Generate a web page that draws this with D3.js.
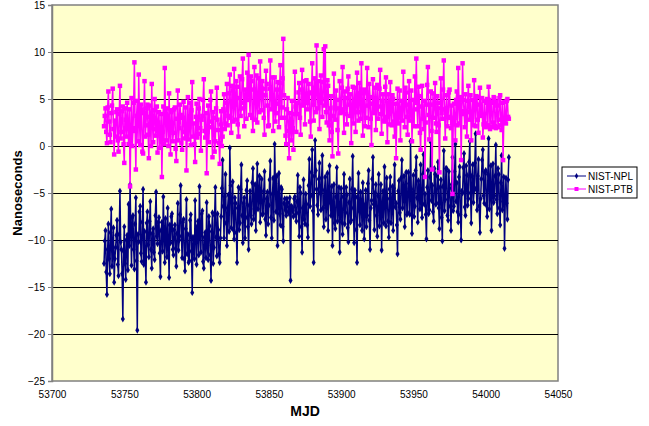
<!doctype html>
<html lang="en">

<head>
    <meta charset="UTF-8">
    <title>NIST-NPL / NIST-PTB</title>
    <style>
        body { margin: 0; background: #fff; }
        text { font-family: "Liberation Sans", Arial, sans-serif; }
    </style>
</head>

<body>
    <svg width="649" height="426"></svg>
    <script src="https://cdn.jsdelivr.net/npm/d3@7"></script>
    <script type="text/javascript">
    // first MJD of both series; readings at whole days and at half days
    var startMJD = 53736;

    var xTicks = [53700, 53750, 53800, 53850, 53900, 53950, 54000, 54050];
    var yTicks = [-25, -20, -15, -10, -5, 0, 5, 10, 15];

    // NIST-NPL, whole-day readings
    var nplDay = [
        -12.5, -9.0, -15.8, -8.3, -13.6, -6.7, -11.2, -14.5, -10.8, -7.9,
        -13.8, -4.8, -11.0, -18.4, -8.6, -14.2, -9.5, -6.2, -4.1, -12.7,
        -7.4, -13.1, -5.5, -19.6, -10.2, -6.4, -12.3, -4.6, -9.1, -14.5,
        -7.0, -11.8, -5.9, -13.0, -8.8, -12.1, -4.9, -10.4, -7.6, -13.9,
        -8.1, -5.4, -12.4, -9.7, -6.6, -14.0, -10.3, -7.2, -11.6, -8.4,
        -12.8, -6.1, -10.0, -4.2, -11.9, -7.8, -13.3, -5.7, -9.4, -12.2,
        -7.3, -15.6, -9.9, -5.8, -12.6, -8.0, -4.3, -11.3, -6.9, -13.0,
        -9.2, -6.0, -12.1, -8.5, -14.3, -7.1, -10.8, -4.4, -11.7, -8.9,
        -12.4, -7.5, -1.5, -9.8, -3.0, -10.6, -5.2, -0.2, -8.7, -3.8,
        -9.9, -6.1, -12.4, -4.4, -8.2, -2.0, -10.3, -5.5, -7.6, -3.7,
        -11.0, -4.8, -8.3, -2.4, -6.7, -9.0, -1.9, -5.6, -8.1, -3.5,
        -7.2, -2.7, -9.5, -4.9, -6.3, -1.6, -9.8, -3.4, 0.2, -7.0,
        -10.6, -2.9, -8.4, -4.6, -10.1, -5.6, -7.4, -6.0, -7.2, -14.3,
        -6.5, -7.5, -5.4, -8.0, -3.1, -9.6, -5.0, -11.3, -3.6, -8.3,
        -6.2, -9.7, -1.4, -5.3, -0.4, -12.4, 0.6, -4.6, -7.3, -1.8,
        -6.8, -1.0, -8.6, -3.3, -5.9, -9.0, -2.1, -7.4, -10.6, -4.1,
        -8.8, -2.3, -6.2, -11.3, -4.5, -9.4, -3.0, -7.1, -5.2, -10.2,
        -3.5, -7.9, -1.1, -10.3, -5.4, -12.4, -2.9, -8.4, -6.1, -3.9,
        -9.9, -4.7, -7.4, -2.6, -11.0, -5.8, -1.2, -8.9, -4.1, -9.6,
        -3.0, -7.0, -11.1, -4.8, -2.2, -8.5, -5.6, -9.7, -3.3, -6.6,
        -9.0, -2.0, -6.1, -11.5, -3.7, -7.8, -1.5, -5.2, -8.6, -2.8,
        -7.1, -4.0, 0.5, -9.3, -3.1, -6.4, -1.2, -8.1, -4.4, -2.0,
        -7.6, -0.9, -5.1, -9.9, -2.6, -6.8, 0.4, -4.2, -8.0, -3.0,
        -6.1, -1.7, -8.8, -3.6, -10.1, -0.5, -5.7, -2.4, -7.9, -4.5,
        -9.0, -1.2, -6.4, 0.2, -3.9, -8.1, -2.2, -10.0, -5.0, -0.8,
        -7.4, -3.1, -5.6, 0.5, -8.2, -2.0, -4.7, 1.3, -6.8, -1.4,
        -9.2, -3.5, -0.4, -6.1, -2.6, -7.5, 0.8, -4.8, -9.0, -1.9,
        -5.3, 0.1, -7.2, -3.0, -8.4, -1.0, -5.9, -10.9, -3.4, -7.8,
        -1.2
    ];

    // NIST-NPL, half-day readings
    var nplHalf = [
        -10.1, -13.4, -11.0, -12.0, -9.2, -12.8, -8.7, -12.0, -9.5, -12.6,
        -9.4, -10.2, -13.6, -11.2, -12.5, -10.0, -13.2, -10.6, -9.0, -7.6,
        -11.0, -8.3, -12.2, -9.4, -7.0, -11.4, -8.1, -12.6, -11.9, -8.2,
        -10.5, -8.0, -11.0, -9.3, -11.3, -7.4, -9.6, -8.1, -11.4, -9.0,
        -11.2, -9.5, -7.7, -11.8, -10.4, -8.4, -7.5, -11.0, -8.9, -10.9,
        -9.3, -11.1, -7.3, -9.6, -8.1, -12.0, -8.8, -11.5, -12.4, -7.9,
        -11.2, -9.7, -12.0, -9.4, -8.6, -11.6, -9.3, -7.2, -12.3, -9.7,
        -11.9, -10.6, -7.5, -11.6, -9.1, -12.5, -7.4, -9.7, -7.2, -11.5,
        -9.8, -4.5, -6.4, -5.4, -8.2, -6.6, -9.1, -4.2, -6.1, -8.9,
        -5.5, -9.2, -6.6, -8.9, -4.6, -7.4, -6.1, -9.8, -4.7, -8.6,
        -6.3, -7.4, -3.9, -7.8, -4.1, -5.0, -6.7, -3.2, -4.9, -7.3,
        -4.8, -7.8, -5.6, -8.3, -3.6, -7.6, -5.1, -7.9, -4.0, -3.2,
        -5.8, -7.2, -4.4, -8.6, -6.1, -6.8, -5.6, -7.0, -5.5, -6.4,
        -6.9, -5.6, -7.3, -5.9, -7.1, -4.4, -8.6, -6.6, -7.8, -5.1,
        -8.4, -4.2, -6.4, -2.8, -6.9, -3.2, -2.6, -6.3, -3.5, -5.0,
        -3.4, -6.6, -4.7, -7.8, -2.9, -5.2, -6.0, -4.3, -6.5, -8.2,
        -5.4, -8.0, -4.4, -6.6, -8.1, -5.4, -8.3, -4.4, -8.7, -6.0,
        -8.1, -4.6, -6.6, -4.7, -8.9, -5.5, -6.9, -4.9, -9.0, -7.0,
        -6.3, -8.6, -4.0, -7.9, -6.6, -3.5, -6.2, -5.0, -7.4, -5.3,
        -8.5, -4.1, -6.4, -8.2, -6.0, -3.4, -8.0, -4.6, -8.2, -4.3,
        -4.5, -6.5, -8.4, -4.8, -7.1, -3.4, -6.6, -3.2, -4.5, -7.3,
        -2.8, -7.3, -4.6, -5.2, -7.5, -2.6, -5.5, -3.7, -6.7, -6.0,
        -3.0, -6.2, -7.3, -4.4, -7.2, -3.3, -5.8, -7.0, -2.4, -6.2,
        -3.2, -6.6, -4.4, -7.6, -4.3, -6.9, -2.4, -7.4, -2.7, -6.4,
        -4.1, -6.9, -2.7, -5.9, -7.0, -3.3, -7.3, -4.8, -2.3, -6.5,
        -2.1, -6.3, -1.7, -5.0, -3.2, -6.0, -1.8, -4.5, -3.2, -6.4,
        -5.6, -1.5, -5.3, -2.8, -6.3, -3.0, -6.7, -2.1, -4.7, -6.0,
        -3.2, -5.7, -2.4, -6.6, -3.9, -6.8, -3.3, -5.9, -6.1, -3.6
    ];

    // NIST-PTB, whole-day readings
    var ptbDay = [
        2.1, 4.0, 0.3, 5.8, 1.2, 3.5, 6.1, -0.9, 1.0, 3.9,
        -0.6, 6.4, 1.5, 4.2, -1.8, 2.8, 4.6, 0.2, -4.3, 5.1,
        1.6, 8.9, -2.5, 4.8, 7.6, 0.1, 3.9, -0.8, 6.9, 2.2,
        4.4, -1.3, 3.1, 6.6, 0.4, 5.0, 1.8, -0.7, 3.6, 1.1,
        -3.3, 4.2, 8.3, 0.6, 2.9, 5.6, -0.9, 3.8, 1.4, 4.1,
        -1.6, 5.9, 1.9, 3.3, -0.4, 4.7, 0.8, -2.6, 5.2, 2.0,
        0.1, 6.8, 2.4, -1.7, 4.5, 1.3, 5.0, -0.5, 3.2, 7.1,
        0.9, -2.9, 4.3, 2.6, 5.8, -1.2, 3.0, 0.5, 6.2, 1.7,
        -1.9, 3.7, 1.0, 5.5, 2.4, 6.6, 3.2, 7.6, 1.4, 5.9,
        8.2, 2.8, 6.3, 1.0, 7.4, 4.0, 9.3, 2.1, 5.4, 7.8,
        9.7, 3.3, 6.9, 1.6, 8.4, 4.7, 2.5, 7.2, 9.0, 3.8,
        6.1, 1.2, 8.0, 4.3, 2.2, 9.1, 5.0, 1.6, 7.3, 3.5,
        6.8, 2.0, 8.6, 4.1, 11.4, 3.0, 0.2, 5.1, -1.3, 2.6,
        4.8, -0.4, 7.9, 1.5, 3.4, 6.7, 1.2, 8.1, 4.5, 2.3,
        7.0, 3.9, 5.6, 1.0, 8.8, 2.7, 6.2, 10.7, 4.0, 1.8,
        7.5, 3.1, 10.3, 10.6, 2.5, 6.4, 0.6, 5.3, -1.1, 7.7,
        2.8, 4.9, -0.8, 6.9, 3.6, 8.4, 1.4, 5.1, 2.3, 7.4,
        3.2, 0.3, 6.3, 4.4, 1.5, 7.8, 2.7, 5.6, 8.8, 1.1,
        6.0, 3.0, 8.3, 2.0, 5.2, 0.1, 7.1, 3.9, 1.7, 6.5,
        4.2, 8.1, 1.3, 5.5, 2.6, 7.3, 0.4, 4.6, 6.8, 2.2,
        5.0, 1.0, -1.3, 6.1, 3.3, 0.6, 4.8, 7.9, 2.0, 5.7,
        1.2, 6.9, 3.6, 0.5, 4.9, 7.4, 9.3, 2.1, 5.3, -0.4,
        6.4, 1.8, -3.3, 4.4, 8.4, 0.7, 5.8, -2.5, 3.0, 6.7,
        1.5, 4.6, -2.8, 7.2, 2.9, 9.1, 0.8, 5.4, 3.1, 6.0,
        1.9, -5.1, 4.5, 0.6, 5.8, 8.3, 2.4, -1.5, 8.8, 3.7,
        5.5, 1.0, 6.4, 2.8, 0.6, 4.9, 7.0, 2.1, 5.2, 1.4,
        6.2, 3.4, 0.9, 4.8, 2.0, 5.0, 6.3, 1.8, 4.6, 2.5,
        5.1, 1.9, 4.3, 2.8, 5.4, 1.7, -1.5, 4.7, 2.4, 5.0,
        2.9
    ];

    // NIST-PTB, half-day readings
    var ptbHalf = [
        3.2, 1.5, 4.1, 2.6, 0.4, 4.3, 1.8, 2.7, 3.6, 0.6,
        3.4, 0.8, 3.7, 0.2, 4.0, 1.0, 2.2, 3.9, 1.3, 0.0,
        4.6, 1.9, 3.2, 0.5, 2.7, 4.4, -0.6, 3.5, 1.0, 4.0,
        1.2, 4.3, 0.0, 2.4, 3.8, 1.1, 4.2, 2.5, -0.2, 3.4,
        1.5, 0.2, 3.0, 4.0, 0.0, 1.7, 3.6, 0.5, 3.9, -0.3,
        2.9, 0.6, 4.4, 0.3, 3.0, 1.5, 4.1, 1.2, 0.7, 4.6,
        3.8, 1.0, 0.2, 3.1, 0.9, 4.0, 1.9, 2.8, 4.9, 1.6,
        3.5, 1.5, 0.4, 4.9, 2.0, 3.6, -0.6, 4.0, 2.8, 0.3,
        2.3, 0.0, 3.9, 1.8, 4.6, 2.2, 5.6, 3.0, 6.4, 2.6,
        4.4, 6.9, 2.3, 5.1, 3.2, 7.1, 4.6, 6.0, 2.9, 4.9,
        5.5, 7.4, 3.0, 6.0, 2.8, 7.5, 4.9, 3.6, 5.8, 6.9,
        3.0, 5.4, 6.6, 2.1, 6.1, 3.9, 7.3, 4.4, 2.6, 6.0,
        4.5, 6.7, 3.0, 7.2, 5.4, 1.1, 3.9, 1.6, 3.5, 0.6,
        1.9, 3.4, 4.2, 4.6, 5.7, 3.0, 6.0, 4.3, 6.9, 5.1,
        4.6, 6.6, 2.6, 5.7, 4.4, 7.2, 3.6, 5.9, 6.9, 4.6,
        5.0, 6.8, 4.3, 3.6, 7.0, 2.2, 4.0, 1.5, 3.2, 4.1,
        5.9, 1.7, 4.0, 3.5, 6.2, 3.9, 5.8, 3.4, 6.1, 4.4,
        5.5, 3.8, 2.4, 6.2, 4.8, 3.6, 6.7, 2.9, 4.2, 5.6,
        2.1, 5.7, 4.3, 6.6, 2.9, 4.5, 3.5, 6.2, 4.7, 2.9,
        6.1, 3.4, 4.8, 2.7, 6.3, 3.1, 5.5, 2.3, 3.7, 5.4,
        2.6, 4.5, 3.0, 2.4, 5.9, 3.8, 2.7, 4.4, 6.2, 3.1,
        4.4, 2.7, 5.9, 3.2, 2.1, 4.6, 3.9, 6.3, 1.4, 4.2,
        2.9, 4.8, 2.5, 6.5, 3.3, 4.4, 1.6, 5.6, 4.4, 2.4,
        5.3, 2.2, 4.0, 3.5, 6.0, 3.9, 4.0, 2.1, 5.7, 3.0,
        4.3, 2.3, 3.0, 4.9, 2.2, 4.6, 5.2, 3.4, 4.9, 2.0,
        3.0, 4.8, 3.6, 5.4, 3.1, 2.2, 4.5, 5.3, 2.8, 4.4,
        3.2, 5.1, 2.3, 2.4, 4.6, 2.2, 4.9, 4.7, 2.0, 5.2,
        2.1, 4.7, 2.0, 5.1, 2.2, 4.6, 2.5, 2.9, 4.8, 3.1
    ];

    var seriesNames = ['NIST-NPL', 'NIST-PTB'];
    var seriesColors = ['#000080', '#ff00ff'];

    var svg = d3.select('svg'),
        margin = {
            top: 5,
            right: 91,
            left: 52,
            bottom: 45
        },
        width = svg.attr('width') - margin.left - margin.right,
        height = svg.attr('height') - margin.top - margin.bottom;

    var x = d3.scaleLinear()
        .domain([53700, 54050])
        .range([0, width]);
    var y = d3.scaleLinear()
        .domain([-25, 15])
        .range([height, 0]);

    var g = svg.append('g')
        .attr('transform', 'translate(' + margin.left + ',' + margin.top + ')');

    // plot area
    g.append('rect')
        .attr('width', width)
        .attr('height', height)
        .attr('fill', '#ffffcc')
        .attr('stroke', '#808080')
        .attr('stroke-width', 1.5);

    // horizontal grid
    g.selectAll('.grid')
        .data(yTicks.filter(function(d) { return d > -25 && d < 15; }))
        .enter().append('line')
        .attr('class', 'grid')
        .attr('x1', 0)
        .attr('x2', width)
        .attr('y1', function(d) { return Math.round(y(d)) + 0.5; })
        .attr('y2', function(d) { return Math.round(y(d)) + 0.5; })
        .attr('stroke', '#000')
        .attr('stroke-width', 1);

    var yAxis = g.append('g')
        .call(d3.axisLeft(y).tickValues(yTicks).tickSize(4).tickPadding(3));
    yAxis.select('.domain').attr('stroke', '#808080').attr('stroke-width', 1.5);
    yAxis.selectAll('.tick line').attr('stroke', '#808080');
    yAxis.selectAll('text').attr('font-size', '10px').attr('fill', '#000')
        .style('font-family', '"Liberation Sans", Arial, sans-serif');

    var xAxis = g.append('g')
        .attr('transform', 'translate(0,' + height + ')')
        .call(d3.axisBottom(x).tickValues(xTicks).tickFormat(d3.format('d')).tickSize(0).tickPadding(10));
    xAxis.select('.domain').remove();
    xAxis.selectAll('text').attr('font-size', '10px').attr('fill', '#000')
        .style('font-family', '"Liberation Sans", Arial, sans-serif');

    // merge whole-day and half-day readings into one time-ordered list
    function merge(day, half) {
        var out = [];
        day.forEach(function(v, i) {
            out.push({ mjd: startMJD + i, v: v });
            if (i < half.length) out.push({ mjd: startMJD + i + 0.5, v: half[i] });
        });
        return out;
    }

    var allSeries = [merge(nplDay, nplHalf), merge(ptbDay, ptbHalf)].map(function(vals, k) {
        return { name: seriesNames[k], color: seriesColors[k], values: vals };
    });

    var line = d3.line()
        .x(function(d) { return x(d.mjd); })
        .y(function(d) { return y(d.v); });

    var diamond = d3.symbol().type(d3.symbolDiamond).size(14);
    var square = d3.symbol().type(d3.symbolSquare).size(20);

    allSeries.forEach(function(s, k) {
        var sg = g.append('g');
        sg.append('path')
            .datum(s.values)
            .attr('d', line)
            .attr('fill', 'none')
            .attr('stroke', s.color)
            .attr('stroke-width', 1.5);
        sg.selectAll('.pt')
            .data(s.values)
            .enter().append('path')
            .attr('class', 'pt')
            .attr('d', k === 0 ? diamond : square)
            .attr('transform', function(d) { return 'translate(' + x(d.mjd) + ',' + y(d.v) + ')'; })
            .attr('fill', s.color);
    });

    // axis titles
    svg.append('text')
        .attr('transform', 'translate(22,' + (margin.top + height / 2) + ') rotate(-90)')
        .attr('text-anchor', 'middle')
        .attr('font-size', '13px')
        .attr('font-weight', 'bold')
        .text('Nanoseconds');
    svg.append('text')
        .attr('x', margin.left + width / 2)
        .attr('y', 416)
        .attr('text-anchor', 'middle')
        .attr('font-size', '14px')
        .attr('font-weight', 'bold')
        .text('MJD');

    // legend
    var lg = svg.append('g').attr('transform', 'translate(562,167)');
    lg.append('rect')
        .attr('width', 75)
        .attr('height', 31)
        .attr('fill', '#fff')
        .attr('stroke', '#000');
    var item = lg.selectAll('.item')
        .data(allSeries)
        .enter().append('g')
        .attr('class', 'item')
        .attr('transform', function(d, i) { return 'translate(0,' + (9 + i * 13) + ')'; });
    item.append('line')
        .attr('x1', 5).attr('x2', 24)
        .attr('stroke', function(d) { return d.color; });
    item.append('path')
        .attr('d', function(d, i) { return i === 0 ? d3.symbol().type(d3.symbolDiamond).size(10)() : d3.symbol().type(d3.symbolSquare).size(16)(); })
        .attr('transform', 'translate(14.5,0)')
        .attr('fill', function(d) { return d.color; });
    item.append('text')
        .attr('x', 26)
        .attr('y', 3.5)
        .attr('font-size', '10px')
        .text(function(d) { return d.name; });
    </script>
</body>

</html>
